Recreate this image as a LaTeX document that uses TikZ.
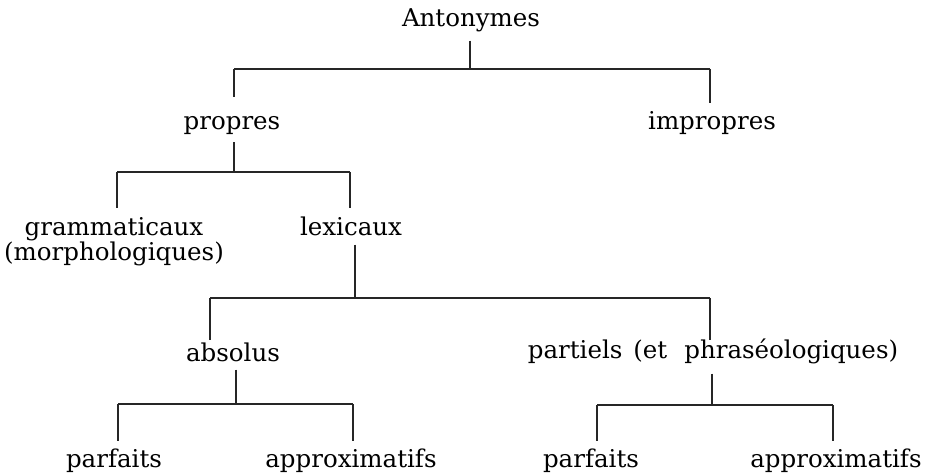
\documentclass[tikz,border=0pt]{standalone}
\usepackage{fontspec}
\setmainfont{DejaVu Serif}
\begin{document}
\begin{tikzpicture}[x=1pt,y=-1pt,
  lbl/.style={inner sep=0pt,anchor=base,font=\fontsize{24.5}{29}\selectfont},
  tree/.style={line width=1.1pt,black!85}]
\useasboundingbox (0,0) rectangle (927,473);
% nodes
\node[lbl] (ant) at (471,27) {Antonymes};
\node[lbl] (prop) at (232,130) {propres};
\node[lbl] (improp) at (712,130) {impropres};
\node[lbl,align=center,anchor=north] (gram) at (114,217) {grammaticaux\\[-4pt](morphologiques)};
\node[lbl] (lex) at (351,236) {lexicaux};
\node[lbl] (abs) at (233,361) {absolus};
\node[lbl] (part) at (713,359) {partiels\hspace{11pt}(et\hspace{17pt}phraséologiques)};
\node[lbl] (parf1) at (114,467) {parfaits};
\node[lbl] (appr1) at (351,467) {approximatifs};
\node[lbl] (parf2) at (591,467) {parfaits};
\node[lbl] (appr2) at (836,467) {approximatifs};
% bar coordinates
\coordinate (b1l) at (234,69);  \coordinate (b1r) at (710,69);  \coordinate (b1m) at (470,69);
\coordinate (b2l) at (117,172); \coordinate (b2r) at (350,172); \coordinate (b2m) at (234,172);
\coordinate (b3l) at (210,298); \coordinate (b3r) at (710,298); \coordinate (b3m) at (355,298);
\coordinate (b4l) at (118,404); \coordinate (b4r) at (353,404); \coordinate (b4m) at (236,404);
\coordinate (b5l) at (597,405); \coordinate (b5r) at (833,405); \coordinate (b5m) at (712,405);
% parent stems
\draw[tree] (b1m |- ant.south) ++(0,8) -- (b1m);
\draw[tree] (b2m |- prop.south) ++(0,7) -- (b2m);
\draw[tree] (b3m |- lex.south) ++(0,8) -- (b3m);
\draw[tree] (b4m |- abs.south) ++(0,8) -- (b4m);
\draw[tree] (b5m |- part.south) ++(0,9) -- (b5m);
% bars
\draw[tree] (b1l) -- (b1r);
\draw[tree] (b2l) -- (b2r);
\draw[tree] (b3l) -- (b3r);
\draw[tree] (b4l) -- (b4r);
\draw[tree] (b5l) -- (b5r);
% child drops
\draw[tree] (b1l) -- (b1l |- 0,97);
\draw[tree] (b1r) -- (b1r |- 0,103);
\draw[tree] (b2l) -- (b2l |- 0,208);
\draw[tree] (b2r) -- (b2r |- 0,208);
\draw[tree] (b3l) -- (b3l |- 0,340);
\draw[tree] (b3r) -- (b3r |- 0,340);
\draw[tree] (b4l) -- (b4l |- 0,441);
\draw[tree] (b4r) -- (b4r |- 0,441);
\draw[tree] (b5l) -- (b5l |- 0,441);
\draw[tree] (b5r) -- (b5r |- 0,441);
\end{tikzpicture}
\end{document}
